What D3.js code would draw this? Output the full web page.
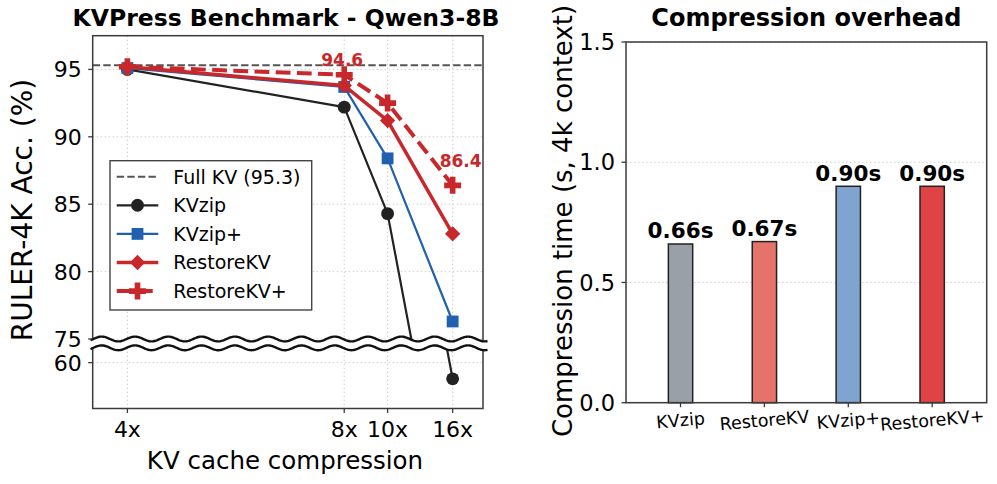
<!DOCTYPE html>
<html>
<head>
<meta charset="utf-8">
<script src="https://cdn.jsdelivr.net/npm/d3@7"></script>
<style>
  body { margin: 0; background: #fff; }
  svg { display: block; font-family: "DejaVu Sans", sans-serif; }
</style>
</head>
<body>
<div id="vis"></div>
<script>
// ---- data ----
const ratios = [4, 8, 10, 16];
const ratioLabels = ["4x", "8x", "10x", "16x"];
const kvzip = [95.0, 92.2, 84.3, 58.8];
const kvzipPlus = [95.1, 93.7, 88.4, 76.3];
const restoreKV = [95.2, 93.8, 91.2, 82.8];
const restoreKVPlus = [95.2, 94.6, 92.5, 86.4];
const fullKV = 95.3;
const upperTicks = [75, 80, 85, 90, 95];
const lowerTicks = [60];
const annotated = [{ series: 3, idx: 1, dx: -2, dy: -9 }, { series: 3, idx: 3, dx: 8, dy: -18 }];

const methods = ["KVzip", "RestoreKV", "KVzip+", "RestoreKV+"];
const times = [0.66, 0.67, 0.90, 0.90];
const timeTicks = [0.0, 0.5, 1.0, 1.5];

const red = "#c8282b";
const series = [
  { name: "KVzip", values: kvzip, color: "#222222", width: 2.2, dash: null, symbol: d3.symbolCircle, size: 130, rot: 0 },
  { name: "KVzip+", values: kvzipPlus, color: "#2160ae", width: 2.2, dash: null, symbol: d3.symbolSquare, size: 140, rot: 0 },
  { name: "RestoreKV", values: restoreKV, color: red, width: 3.5, dash: null, symbol: d3.symbolSquare, size: 118, rot: 45 },
  { name: "RestoreKV+", values: restoreKVPlus, color: red, width: 4, dash: "14.8,6.4", symbol: d3.symbolCross, size: 160, rot: 0 }
];
const barColors = ["#9aa0a8", "#e5736a", "#80a3cf", "#e04345"];

const svg = d3.select("#vis").append("svg").attr("width", 997).attr("height", 484);
const spineColor = "#3a3a3a";
const gridColor = "#cfcfcf";

// ---- left panel: broken axis ----
const L = { left: 92.7, right: 483, top: 35.7, bottom: 408.5, breakTop: 339, breakBottom: 347.8 };
const x = d3.scaleLinear().domain([0.27, 0.045]).range([L.left, L.right]);
const yUp = d3.scaleLinear().domain([75, 97.5]).range([L.breakTop, L.top]);
const yLo = d3.scaleLinear().domain([56.6, 61.1]).range([L.bottom, L.breakBottom]);
const px = r => x(1 / r);
const yAny = v => v >= 75 ? yUp(v) : yLo(v);

const defs = svg.append("defs");
defs.append("clipPath").attr("id", "clipUp").append("rect")
  .attr("x", L.left).attr("y", L.top).attr("width", L.right - L.left).attr("height", L.breakTop - L.top);
defs.append("clipPath").attr("id", "clipLo").append("rect")
  .attr("x", L.left).attr("y", L.breakBottom).attr("width", L.right - L.left).attr("height", L.bottom - L.breakBottom);

const left = svg.append("g");

// grid
left.selectAll(".vgrid").data(ratios).join("line")
  .attr("x1", d => px(d)).attr("x2", d => px(d)).attr("y1", L.top).attr("y2", L.bottom)
  .attr("stroke", gridColor).attr("stroke-width", 1).attr("stroke-dasharray", "1.5,2.5");
left.selectAll(".hgridU").data(upperTicks).join("line")
  .attr("x1", L.left).attr("x2", L.right).attr("y1", d => yUp(d)).attr("y2", d => yUp(d))
  .attr("stroke", gridColor).attr("stroke-width", 1).attr("stroke-dasharray", "1.5,2.5");
left.selectAll(".hgridL").data(lowerTicks).join("line")
  .attr("x1", L.left).attr("x2", L.right).attr("y1", d => yLo(d)).attr("y2", d => yLo(d))
  .attr("stroke", gridColor).attr("stroke-width", 1).attr("stroke-dasharray", "1.5,2.5");

// full KV reference
left.append("line")
  .attr("x1", L.left).attr("x2", L.right).attr("y1", yUp(fullKV)).attr("y2", yUp(fullKV))
  .attr("stroke", "#555").attr("stroke-width", 2).attr("stroke-dasharray", "7.4,3.2");

// series lines (drawn in both halves, clipped)
series.forEach(s => {
  [["clipUp", yUp], ["clipLo", yLo]].forEach(([clip, ys]) => {
    const line = d3.line().x((d, i) => px(ratios[i])).y(d => ys(d));
    left.append("path")
      .attr("clip-path", `url(#${clip})`)
      .attr("d", line(s.values))
      .attr("fill", "none")
      .attr("stroke", s.color).attr("stroke-width", s.width)
      .attr("stroke-dasharray", s.dash)
      .attr("stroke-linejoin", "round");
  });
  left.selectAll(null).data(s.values).join("path")
    .attr("transform", (d, i) => `translate(${px(ratios[i])},${yAny(d)}) rotate(${s.rot})`)
    .attr("d", d3.symbol().type(s.symbol).size(s.size)())
    .attr("fill", s.color);
});

// annotations
annotated.forEach(a => {
  const v = series[a.series].values[a.idx];
  left.append("text")
    .attr("x", px(ratios[a.idx]) + a.dx).attr("y", yUp(v) + a.dy)
    .attr("text-anchor", "middle").attr("font-size", 17).attr("font-weight", "bold")
    .attr("fill", red).text(v.toFixed(1));
});

// spines
left.append("rect")
  .attr("x", L.left).attr("y", L.top).attr("width", L.right - L.left).attr("height", L.bottom - L.top)
  .attr("fill", "none").attr("stroke", spineColor).attr("stroke-width", 1.5);

// break band + waves
const waveX = d3.range(90.5, 488, 1);
const amp = 2.4, period = 33.3, phase = 118.3;
const wave = y0 => d3.line().x(d => d).y(d => y0 + amp * Math.cos(2 * Math.PI * (d - phase) / period))(waveX);
const bandPts = waveX.map(d => [d, L.breakTop + amp * Math.cos(2 * Math.PI * (d - phase) / period)])
  .concat(waveX.slice().reverse().map(d => [d, L.breakBottom + amp * Math.cos(2 * Math.PI * (d - phase) / period)]));
left.append("path").attr("d", "M" + bandPts.join("L") + "Z").attr("fill", "#fff");
[L.breakTop, L.breakBottom].forEach(y0 => {
  left.append("path").attr("d", wave(y0)).attr("fill", "none").attr("stroke", "#111").attr("stroke-width", 2.4);
});

// ticks
const yTickAll = upperTicks.map(d => ({ v: d, y: yUp(d) })).concat(lowerTicks.map(d => ({ v: d, y: yLo(d) })));
left.selectAll(".ytick").data(yTickAll).join("line")
  .attr("x1", L.left - 4.5).attr("x2", L.left).attr("y1", d => d.y).attr("y2", d => d.y)
  .attr("stroke", spineColor).attr("stroke-width", 1.3);
left.selectAll(".ylab").data(yTickAll).join("text")
  .attr("x", L.left - 11).attr("y", d => d.y).attr("dy", "0.36em")
  .attr("text-anchor", "end").attr("font-size", 22).text(d => d.v);
left.selectAll(".xtick").data(ratios).join("line")
  .attr("x1", d => px(d)).attr("x2", d => px(d)).attr("y1", L.bottom).attr("y2", L.bottom + 4.5)
  .attr("stroke", spineColor).attr("stroke-width", 1.3);
left.selectAll(".xlab").data(ratios).join("text")
  .attr("x", d => px(d)).attr("y", 437)
  .attr("text-anchor", "middle").attr("font-size", 22).text((d, i) => ratioLabels[i]);

left.append("text").attr("x", 285).attr("y", 468.5).attr("text-anchor", "middle")
  .attr("font-size", 24.5).text("KV cache compression");
left.append("text").attr("transform", "translate(31.5,210) rotate(-90)").attr("text-anchor", "middle")
  .attr("font-size", 28).text("RULER-4K Acc. (%)");
left.append("text").attr("x", 286).attr("y", 26).attr("text-anchor", "middle")
  .attr("font-size", 23.5).attr("font-weight", "bold").text("KVPress Benchmark - Qwen3-8B");

// legend
const lg = left.append("g");
lg.append("rect").attr("x", 110).attr("y", 160.7).attr("width", 201.7).attr("height", 149.3)
  .attr("fill", "#fff").attr("stroke", "#444").attr("stroke-width", 1.4);
const legendItems = [{ name: `Full KV (${fullKV})`, ref: true }].concat(series);
const rowY = i => 176.7 + i * 28.6;
legendItems.forEach((s, i) => {
  const yy = rowY(i);
  if (s.ref) {
    lg.append("line").attr("x1", 116.7).attr("x2", 158.3).attr("y1", yy).attr("y2", yy)
      .attr("stroke", "#555").attr("stroke-width", 2).attr("stroke-dasharray", "7.4,3.2");
  } else {
    lg.append("line").attr("x1", 116.7).attr("x2", 158.3).attr("y1", yy).attr("y2", yy)
      .attr("stroke", s.color).attr("stroke-width", s.width).attr("stroke-dasharray", s.dash);
    lg.append("path").attr("transform", `translate(137.5,${yy}) rotate(${s.rot})`)
      .attr("d", d3.symbol().type(s.symbol).size(s.size)()).attr("fill", s.color);
  }
  lg.append("text").attr("x", 173.3).attr("y", yy).attr("dy", "0.36em")
    .attr("font-size", 19).text(s.name);
});

// ---- right panel: bars ----
const R = { left: 626, right: 986.7, top: 42, bottom: 402.7 };
const xb = d3.scaleLinear().domain([-0.65, 3.65]).range([R.left, R.right]);
const yb = d3.scaleLinear().domain([0, 1.5]).range([R.bottom, R.top]);
const barW = xb(0.29) - xb(0);
const right = svg.append("g");

right.selectAll(".bgrid").data(timeTicks).join("line")
  .attr("x1", R.left).attr("x2", R.right).attr("y1", d => yb(d)).attr("y2", d => yb(d))
  .attr("stroke", gridColor).attr("stroke-width", 1).attr("stroke-dasharray", "1.5,2.5");

right.selectAll(".bar").data(times).join("rect")
  .attr("x", (d, i) => xb(i) - barW / 2).attr("y", d => yb(d))
  .attr("width", barW).attr("height", d => yb(0) - yb(d))
  .attr("fill", (d, i) => barColors[i]).attr("stroke", "#222").attr("stroke-width", 1.5);

right.selectAll(".blab").data(times).join("text")
  .attr("x", (d, i) => xb(i)).attr("y", d => yb(d) - 5.5)
  .attr("text-anchor", "middle").attr("font-size", 21.5).attr("font-weight", "bold")
  .text(d => d3.format(".2f")(d) + "s");

right.append("rect")
  .attr("x", R.left).attr("y", R.top).attr("width", R.right - R.left).attr("height", R.bottom - R.top)
  .attr("fill", "none").attr("stroke", spineColor).attr("stroke-width", 1.5);

right.selectAll(".ytickR").data(timeTicks).join("line")
  .attr("x1", R.left - 4.5).attr("x2", R.left).attr("y1", d => yb(d)).attr("y2", d => yb(d))
  .attr("stroke", spineColor).attr("stroke-width", 1.3);
right.selectAll(".ylabR").data(timeTicks).join("text")
  .attr("x", R.left - 11).attr("y", d => yb(d)).attr("dy", "0.36em")
  .attr("text-anchor", "end").attr("font-size", 22.5).text(d => d.toFixed(1));
right.selectAll(".xtickR").data(methods).join("line")
  .attr("x1", (d, i) => xb(i)).attr("x2", (d, i) => xb(i)).attr("y1", R.bottom).attr("y2", R.bottom + 4.5)
  .attr("stroke", spineColor).attr("stroke-width", 1.3);
right.selectAll(".xlabR").data(methods).join("text")
  .attr("transform", (d, i) => `translate(${xb(i)},${420}) rotate(-5)`)
  .attr("dy", "0.36em").attr("text-anchor", "middle").attr("font-size", 17.5).text(d => d);

right.append("text").attr("transform", "translate(571.5,221) rotate(-90)").attr("text-anchor", "middle")
  .attr("font-size", 26).text("Compression time (s, 4k context)");
right.append("text").attr("x", (R.left + R.right) / 2).attr("y", 26).attr("text-anchor", "middle")
  .attr("font-size", 24).attr("font-weight", "bold").text("Compression overhead");
</script>
</body>
</html>
